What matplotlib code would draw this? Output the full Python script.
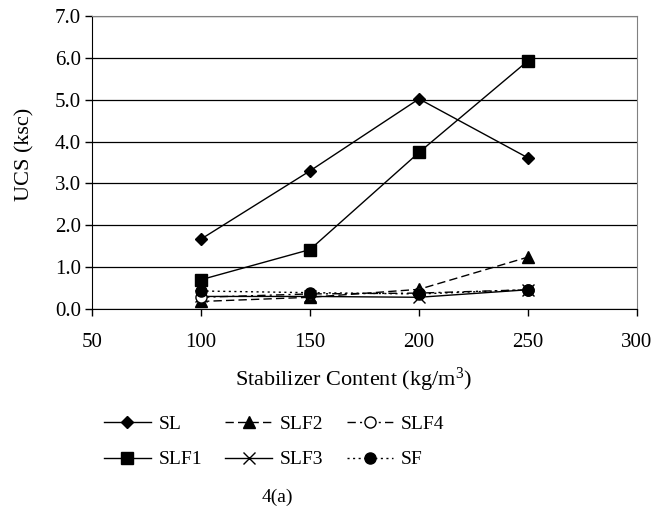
import matplotlib
matplotlib.use('Agg')
import matplotlib.pyplot as plt

plt.rcParams['font.family'] = ['Liberation Serif', 'DejaVu Serif']
plt.rcParams['mathtext.fontset'] = 'custom'
plt.rcParams['mathtext.rm'] = 'Liberation Serif'
plt.rcParams['mathtext.default'] = 'rm'

content = [100, 150, 200, 250]  # kg/m3

sl = [1.67, 3.30, 5.02, 3.61]
slf1 = [0.70, 1.42, 3.74, 5.93]
slf2 = [0.18, 0.28, 0.47, 1.24]
slf3 = [0.30, 0.30, 0.28, 0.46]
slf4 = [0.28, 0.36, 0.38, 0.46]
sf = [0.43, 0.39, 0.36, 0.46]

fig = plt.figure(figsize=(6.55, 5.17), dpi=100)
ax = fig.add_axes([92/655, 1-309/517, (637-92)/655, (309-16)/517])

ax.plot(content, sl, color='black', lw=1, marker='D', ms=6, label='SL')
ax.plot(content, slf1, color='black', lw=1, marker='s', ms=8, label='SLF1')
ax.plot(content, slf2, color='black', lw=1, ls=(0, (6, 3)), marker='^', ms=8, label='SLF2')
ax.plot(content, slf3, color='black', lw=1, marker='x', ms=9, mew=1, label='SLF3')
ax.plot(content, slf4, color='black', lw=1, ls=(0, (6, 3, 1.5, 3)), marker='o', ms=8,
        mfc='white', label='SLF4')
ax.plot(content, sf, color='black', lw=1, ls=(0, (1.5, 2.5)), marker='o', ms=8, label='SF')

ax.set_xlim(50, 300)
ax.set_ylim(0, 7)
ax.set_xticks([50, 100, 150, 200, 250, 300])
ax.set_yticks([0, 1, 2, 3, 4, 5, 6, 7])
ax.set_yticklabels(['%.1f' % v for v in range(8)])
ax.yaxis.grid(True, color='black', lw=0.9)
ax.set_axisbelow(True)
ax.tick_params(labelsize=15, direction='out', length=5, width=1)
ax.tick_params(axis='y', pad=3)
ax.tick_params(axis='x', pad=12)
for s in ['top', 'right']:
    ax.spines[s].set_color('#808080')
for s in ['left', 'bottom']:
    ax.spines[s].set_color('black')

xl = ax.set_xlabel('Stabilizer Content (kg/m$^3$)', fontsize=16, va='center')
ax.xaxis.set_label_coords((353-92)/545, (309-380)/293)
yl = ax.set_ylabel('UCS (ksc)', fontsize=16, va='center')
ax.yaxis.set_label_coords((25-92)/545, (309-154)/293)

fig.legend(loc='center left', bbox_to_anchor=(104/655, 1-442/517), ncol=3, frameon=False,
           fontsize=14, handlelength=2.4, columnspacing=1.2, labelspacing=0.9,
           handletextpad=0.4, borderpad=0, borderaxespad=0)

fig.text(277/655, 1-497/517, '4(a)', ha='center', va='center', fontsize=14)

fig.savefig('out.png', dpi=100)
